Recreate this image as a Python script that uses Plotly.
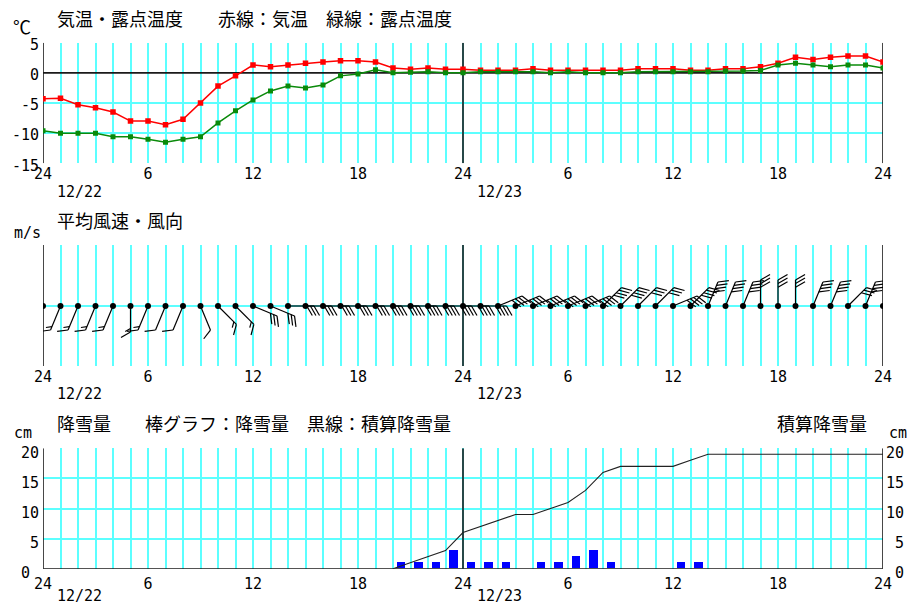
import math
import plotly.graph_objects as go

# ---------------- data ----------------
hours = list(range(49))
tick_hours = [0, 6, 12, 18, 24, 30, 36, 42, 48]
tick_labels = ["24", "6", "12", "18", "24", "6", "12", "18", "24"]
date_labels = ["12/22", "12/23"]
date_hours = [2.1, 26.1]
day_bounds = [0, 24, 48]

temperature = [-4.3, -4.2, -5.3, -5.8, -6.5, -8.0, -8.0, -8.6, -7.7, -5.0,
               -2.2, -0.5, 1.3, 1.0, 1.3, 1.6, 1.8, 2.0, 2.0, 1.8,
               0.8, 0.6, 0.8, 0.6, 0.6, 0.45, 0.45, 0.45, 0.7, 0.45,
               0.45, 0.45, 0.45, 0.45, 0.7, 0.7, 0.7, 0.45, 0.45, 0.7,
               0.7, 1.0, 1.6, 2.6, 2.2, 2.6, 2.8, 2.8, 1.8]
dew_point = [-9.6, -10.0, -10.0, -10.0, -10.6, -10.6, -11.0, -11.5, -11.0, -10.6,
             -8.3, -6.3, -4.5, -3.0, -2.2, -2.5, -2.0, -0.5, -0.2, 0.5,
             0.0, 0.1, 0.2, 0.0, 0.0, 0.2, 0.2, 0.2, 0.2, 0.0,
             0.2, 0.0, 0.0, 0.0, 0.2, 0.2, 0.2, 0.2, 0.2, 0.3,
             0.3, 0.4, 1.3, 1.6, 1.3, 1.0, 1.3, 1.3, 0.8]
temp_range = [-15, 5]
temp_ticks = [-15, -10, -5, 0, 5]
temp_tick_labels = ["-15", "-10", "-5", "0", "5"]
temp_grid = [-10, -5, 5]

# wind: direction the wind blows FROM (deg, N=0, E=90) and mean speed (m/s)
wind_dir_deg = [202.5, 202.5, 202.5, 202.5, 202.5, 180.0, 202.5, 202.5, 202.5, 157.5,
                135.0, 135.0, 112.5, 112.5, 90.0, 90.0, 90.0, 90.0, 90.0, 90.0,
                90.0, 90.0, 90.0, 90.0, 90.0, 90.0, 67.5, 67.5, 67.5, 67.5,
                67.5, 67.5, 45.0, 45.0, 45.0, 45.0, 67.5, 45.0, 22.5, 22.5,
                22.5, 0.0, 0.0, 0.0, 22.5, 22.5, 45.0, 22.5, 45.0]
wind_speed = [1.5, 1.5, 1.5, 1.5, 1.5, 1.5, 1.5, 1.0, 1.0, 1.0,
              1.5, 1.5, 3.0, 3.0, 3.0, 3.0, 3.0, 3.0, 3.0, 4.0,
              4.0, 4.0, 4.0, 4.0, 4.0, 4.0, 4.0, 4.0, 4.0, 4.0,
              4.0, 4.0, 4.0, 4.0, 3.0, 3.0, 4.0, 4.0, 4.0, 4.0,
              4.0, 3.0, 3.0, 3.0, 4.0, 4.0, 3.0, 4.0, 4.0]

snow_hours = [20, 21, 22, 23, 24, 25, 26, 28, 29, 30, 31, 32, 36, 37]
snow_cm = [1, 1, 1, 3, 1, 1, 1, 1, 1, 2, 3, 1, 1, 1]
cum_hours = [20, 21, 22, 23, 24, 25, 26, 27, 28, 29, 30, 31, 32, 33, 34, 35,
             36, 37, 38, 39, 40, 41, 42, 43, 44, 45, 46, 47, 48]
cum_snow_cm = [0, 1, 2, 3, 6, 7, 8, 9, 9, 10, 11, 13, 16, 17, 17, 17,
               17, 18, 19, 19, 19, 19, 19, 19, 19, 19, 19, 19, 19]
snow_range = [0, 20]
snow_ticks = [0, 5, 10, 15, 20]
snow_grid = [5, 10, 15, 20]
snow_tick_labels_l = ["0\u00a0", "5", "10", "15", "20"]
snow_tick_labels_r = ["\u00a00", "\u00a05", "10", "15", "20"]

# ---------------- geometry ----------------
W, H = 917, 604
ML, MR = 43, 34
PW = W - ML - MR
PX_PER_HOUR = PW / 48.0
WIND_RANGE = [-60, 61]   # wind panel y in pixels (baseline = 0)

CYAN = "#5cffff"
BLACK = "#1a1a1a"
JP = "Noto Sans CJK JP"
NUM = "DejaVu Sans Mono"


def yp(py):
    return 1 - py / H


def xp(px):
    return (px - ML) / PW


fig = go.Figure()


def black_frame(xa, ya, yr, hline_at=None):
    xs, ys = [], []
    for hx in day_bounds:
        xs += [hx, hx, None]
        ys += [yr[0], yr[1], None]
    if hline_at is not None:
        xs += [0, 48, None]
        ys += [hline_at, hline_at, None]
    fig.add_trace(go.Scatter(x=xs, y=ys, mode="lines",
                             line=dict(color=BLACK, width=1.6),
                             xaxis=xa, yaxis=ya, showlegend=False, hoverinfo="skip"))


# ---------------- temperature panel ----------------
black_frame("x", "y", temp_range, hline_at=0)
fig.add_trace(go.Scatter(x=hours, y=temperature, mode="lines+markers",
                         line=dict(color="#ff0000", width=1.5),
                         marker=dict(symbol="square", size=5.5, color="#ff0000"),
                         xaxis="x", yaxis="y", showlegend=False))
fig.add_trace(go.Scatter(x=hours, y=dew_point, mode="lines+markers",
                         line=dict(color="#0a8a0a", width=1.5),
                         marker=dict(symbol="square", size=5, color="#0a8a0a"),
                         xaxis="x", yaxis="y", showlegend=False))

# ---------------- wind panel (barbs) ----------------
black_frame("x2", "y2", WIND_RANGE)
SHAFT, FEATHER, SPACING, ANGLE = 26.0, 11.0, 3.6, 60.0
bx, by = [], []
for h, d, s in zip(hours, wind_dir_deg, wind_speed):
    r = math.radians(d)
    ux, uy = math.sin(r), math.cos(r)
    bx += [h, h + SHAFT * ux / PX_PER_HOUR, None]
    by += [0, SHAFT * uy, None]
    fr = math.radians(d + ANGLE)
    fx, fy = math.sin(fr), math.cos(fr)
    full = int(s)
    half = (s - full) >= 0.5
    n = full + (1 if half else 0)
    for i in range(n):
        dist = SHAFT - i * SPACING
        length = FEATHER if i < full else FEATHER * 0.55
        x0 = h + dist * ux / PX_PER_HOUR
        y0 = dist * uy
        bx += [x0, x0 + length * fx / PX_PER_HOUR, None]
        by += [y0, y0 + length * fy, None]
fig.add_trace(go.Scatter(x=bx, y=by, mode="lines",
                         line=dict(color="#000000", width=1.2),
                         xaxis="x2", yaxis="y2", showlegend=False, hoverinfo="skip"))
fig.add_trace(go.Scatter(x=hours, y=[0] * len(hours), mode="markers",
                         marker=dict(symbol="circle", size=6, color="#000000"),
                         xaxis="x2", yaxis="y2", showlegend=False))

# ---------------- snow panel ----------------
black_frame("x3", "y3", snow_range, hline_at=0)
fig.add_trace(go.Bar(x=[h + 0.45 for h in snow_hours], y=snow_cm, width=0.5,
                     marker=dict(color="#0000ff", line=dict(width=0)),
                     xaxis="x3", yaxis="y3", showlegend=False))
fig.add_trace(go.Scatter(x=cum_hours, y=cum_snow_cm, mode="lines",
                         line=dict(color="#222222", width=1.1),
                         xaxis="x3", yaxis="y4", showlegend=False))

# ---------------- axes ----------------
xcommon = dict(range=[0, 48], tickvals=tick_hours, ticktext=tick_labels,
               showgrid=True, gridcolor=CYAN, gridwidth=1.5,
               minor=dict(tick0=0, dtick=1, showgrid=True, gridcolor=CYAN, gridwidth=1.5),
               zeroline=False, showline=False, ticks="", automargin=False,
               tickfont=dict(family=NUM, size=15, color="#000"))
ycommon = dict(zeroline=False, showline=False, ticks="", automargin=False,
               tickfont=dict(family=NUM, size=15, color="#000"))

dom_top = [yp(163.3), yp(42.7)]
dom_wind = [yp(366), yp(245)]
dom_snow = [yp(568.7), yp(448.3)]

fig.update_layout(
    template="none",
    width=W, height=H,
    margin=dict(l=ML, r=MR, t=0, b=0, autoexpand=False),
    paper_bgcolor="white", plot_bgcolor="white",
    bargap=0, hovermode=False,
    xaxis=dict(domain=[0, 1], anchor="y", **xcommon),
    xaxis2=dict(domain=[0, 1], anchor="y2", **xcommon),
    xaxis3=dict(domain=[0, 1], anchor="y3", ticklabelstandoff=4, **xcommon),
    yaxis=dict(domain=dom_top, anchor="x", range=temp_range, tickvals=temp_ticks,
               ticktext=temp_tick_labels, showgrid=False, ticklabelstandoff=3,
               ticklabelshift=2,
               minor=dict(tickvals=temp_grid, showgrid=True, gridcolor=CYAN,
                          gridwidth=1.5, ticks=""),
               **ycommon),
    yaxis2=dict(domain=dom_wind, anchor="x2", range=WIND_RANGE, showgrid=False,
                zeroline=True, zerolinecolor=CYAN, zerolinewidth=1.5,
                showticklabels=False, ticks="", showline=False, automargin=False),
    yaxis3=dict(domain=dom_snow, anchor="x3", range=snow_range, tickvals=snow_ticks,
                ticktext=snow_tick_labels_l, showgrid=False, ticklabelstandoff=3,
                ticklabelshift=4,
                minor=dict(tickvals=snow_grid, showgrid=True, gridcolor=CYAN,
                           gridwidth=1.5, ticks=""),
                **ycommon),
    yaxis4=dict(overlaying="y3", side="right", anchor="x3", range=snow_range,
                tickvals=snow_ticks, ticktext=snow_tick_labels_r, showgrid=False,
                ticklabelstandoff=2, ticklabelshift=4, **ycommon),
)

# ---------------- texts ----------------
anns = []


def txt(s, px, py, size=18, family=JP, xanchor="left"):
    anns.append(dict(text=s, x=xp(px), y=yp(py), xref="paper", yref="paper",
                     xanchor=xanchor, yanchor="middle", showarrow=False,
                     font=dict(family=family, size=size, color="#000")))


txt("気温・露点温度", 55, 18)
txt("赤線：気温　緑線：露点温度", 216, 18)
txt("℃", 11, 26)
txt("平均風速・風向", 55, 220)
txt("m/s", 12, 233, size=15, family=NUM)
txt("降雪量", 55, 423)
txt("棒グラフ：降雪量　黒線：積算降雪量", 143, 423)
txt("積算降雪量", 775, 423)
txt("cm", 12, 433, size=15, family=NUM)
txt("cm", 887, 433, size=15, family=NUM)
for py in [192, 393.5, 595.5]:
    for lab, hh in zip(date_labels, date_hours):
        txt(lab, ML + hh * PX_PER_HOUR, py, size=15, family=NUM, xanchor="center")
fig.update_layout(annotations=anns)

fig.write_html("out.html", config={"displayModeBar": False},
               post_script="document.body.style.margin='0px';")
